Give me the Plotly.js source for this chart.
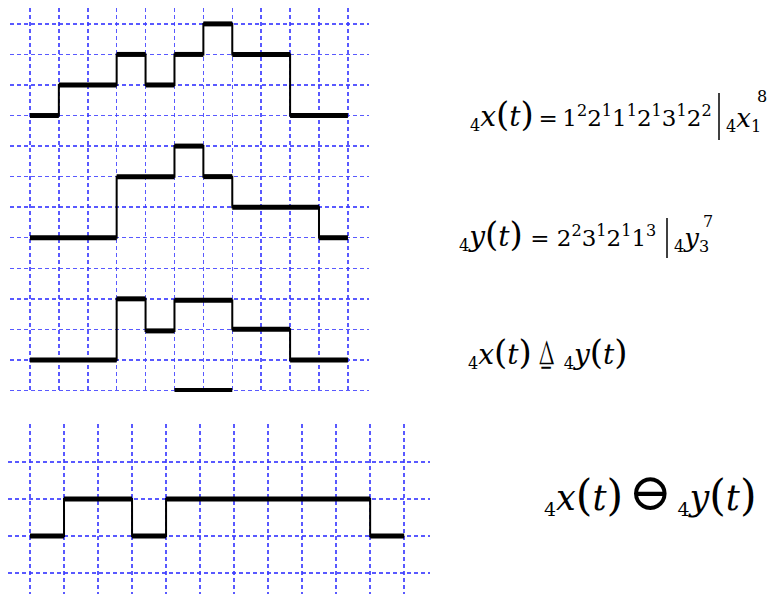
<!DOCTYPE html>
<html><head><meta charset="utf-8">
<script src="https://cdn.plot.ly/plotly-3.0.1.min.js"></script>
<style>html,body{margin:0;padding:0;background:#fff}#chart{width:772px;height:594px}</style>
</head><body><div id="chart"></div>
<script>
// Step signals: break points on the time grid and the level held between them
const xBreaks = [0, 1, 3, 4, 5, 6, 7, 9, 11];
const xLevels = [0, 1, 2, 1, 2, 3, 2, 0];
const yBreaks = [0, 3, 5, 6, 7, 10, 11];
const yLevels = [0, 2, 3, 2, 1, 0];
const triBreaks = [0, 3, 4, 5, 7, 9, 11];
const triLevels = [0, 2, 0.95, 1.95, 1, 0];
const triExtraBreaks = [5, 7];
const triExtraLevels = [-1];
const minusBreaks = [0, 1, 3, 4, 10, 11];
const minusLevels = [0, 1, 0, 1, 0];

const W = 772, H = 594;
const px = v => v / W, py = v => 1 - v / H;

function stepTrace(br, lv, off, xa, ya) {
  const xs = [], ys = [];
  for (let i = 0; i < lv.length; i++) { xs.push(br[i], br[i + 1]); ys.push(lv[i] + off, lv[i] + off); }
  return {x: xs, y: ys, xaxis: xa, yaxis: ya, mode: 'lines', line: {color: '#000', width: 2}, hoverinfo: 'skip', showlegend: false};
}
function barTrace(br, lv, off, xa, ya) {
  const xs = [], ys = [];
  for (let i = 0; i < lv.length; i++) { xs.push(br[i], br[i + 1], null); ys.push(lv[i] + off, lv[i] + off, null); }
  return {x: xs, y: ys, xaxis: xa, yaxis: ya, mode: 'lines', line: {color: '#000', width: 5}, hoverinfo: 'skip', showlegend: false};
}

const traces = [
  stepTrace(xBreaks, xLevels, 9, 'x', 'y'), barTrace(xBreaks, xLevels, 9, 'x', 'y'),
  stepTrace(yBreaks, yLevels, 5, 'x', 'y'), barTrace(yBreaks, yLevels, 5, 'x', 'y'),
  stepTrace(triBreaks, triLevels, 1, 'x', 'y'), barTrace(triBreaks, triLevels, 1, 'x', 'y'),
  barTrace(triExtraBreaks, triExtraLevels, 1, 'x', 'y'),
  stepTrace(minusBreaks, minusLevels, 0, 'x2', 'y2'), barTrace(minusBreaks, minusLevels, 0, 'x2', 'y2')
];

const grid = {showgrid: true, gridcolor: 'rgba(60,60,255,0.85)', gridwidth: 1.5, griddash: '4px,3px',
  zeroline: false, showticklabels: false, ticks: '', showline: false, dtick: 1, tick0: 0, fixedrange: true};

const F = 'DejaVu Serif';
const ann = (x, y, text, size, xa, fam) => ({xref: 'paper', yref: 'paper', x: px(x), y: py(y), text: text,
  showarrow: false, xanchor: xa || 'left', yanchor: 'middle', font: {family: fam || F, size: size || 23, color: '#000'}});
const S = (s, size) => '<span style="font-size:' + size + 'px">' + s + '</span>';
const fn = (v, k) => '<sub>4</sub>' + S('<i>' + v + '</i>', 28 * k) + S('(', 34 * k) + S('<i>t</i>', 28 * k) + S(')', 34 * k);
const th = '\u2009';
// evaluation bars of the formulas (text decoration, paper coordinates)
const vbar = (x, y0, y1) => ({type: 'line', xref: 'paper', yref: 'paper', x0: px(x), x1: px(x), y0: py(y0), y1: py(y1),
  line: {color: '#000', width: 1.5}});

const layout = {
  width: W, height: H, margin: {l: 0, r: 0, t: 0, b: 0}, paper_bgcolor: '#fff', plot_bgcolor: 'rgba(0,0,0,0)',
  showlegend: false,
  xaxis: Object.assign({}, grid, {domain: [px(10), px(369)], range: [-0.69, 11.73], anchor: 'y'}),
  yaxis: Object.assign({}, grid, {domain: [py(392), py(8)], range: [-0.05, 12.52], anchor: 'x'}),
  xaxis2: Object.assign({}, grid, {domain: [px(8), px(430)], range: [-0.647, 11.76], anchor: 'y2'}),
  yaxis2: Object.assign({}, grid, {domain: [0, py(424.3)], range: [-1.57, 3.02], anchor: 'x2'}),
  shapes: [vbar(719, 93, 140), vbar(667, 218, 258)],
  annotations: [
    ann(468, 115, fn('x', 1) + th + '=' + th + '1<sup>2</sup>2<sup>1</sup>1<sup>1</sup>2<sup>1</sup>3<sup>1</sup>2<sup>2</sup>'),
    ann(724, 120, '<sub>4</sub>' + S('<i>x</i>', 26) + '<sub>1</sub>'),
    ann(762, 97, '8', 16, 'center'),
    ann(457, 234, fn('y', 1) + ' = 2<sup>2</sup>3<sup>1</sup>2<sup>1</sup>1<sup>3</sup>'),
    ann(672, 240, '<sub>4</sub>' + S('<i>y</i>', 26) + '<sub>3</sub>'),
    ann(708, 222, '7', 16, 'center'),
    ann(466, 352, fn('x', 1) + th + S('⍙', 34) + ' ' + fn('y', 1)),
    ann(542, 492, fn('x', 1.25) + th + S('⊖', 52) + th + fn('y', 1.25), 27)
  ]
};
Plotly.newPlot('chart', traces, layout, {staticPlot: true, displayModeBar: false});
</script></body></html>
